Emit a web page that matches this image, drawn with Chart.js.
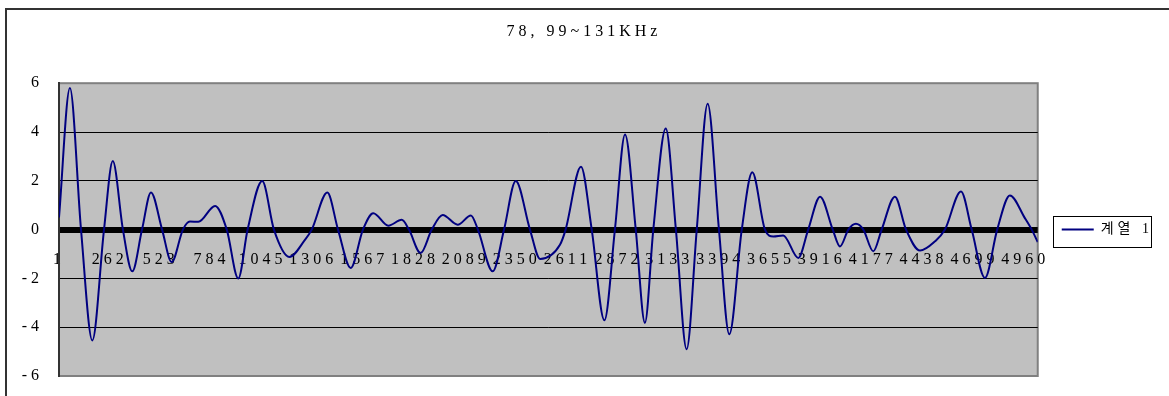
<!DOCTYPE html>
<html>
<head>
<meta charset="utf-8">
<script src="https://cdn.jsdelivr.net/npm/chart.js@4.4.1/dist/chart.umd.min.js"></script>
<style>
  html, body { margin: 0; padding: 0; background: #fff; overflow: hidden; }
  #wrap { position: relative; width: 1169px; height: 396px; }
  #frame {
    position: absolute; left: 5px; top: 8px; width: 1300px; height: 500px;
    border-left: 2px solid #333; border-top: 2px solid #333; pointer-events: none;
  }
  canvas { position: absolute; left: 0; top: 0; }
</style>
</head>
<body>
<div id="wrap">
  <canvas id="chart" width="1169" height="396"></canvas>
  <div id="frame"></div>
</div>
<script>
const TITLE = "78, 99~131KHz";
const SERIES_NAME = "계열 1";

// sample index (x) and value: peaks, troughs, zero crossings
const sampleIdx = [
  1, 57, 114, 172, 232, 277, 329, 377, 427, 473, 530, 579, 637, 673, 716, 802,
  862, 921, 969, 1044, 1104, 1183, 1264, 1298, 1378, 1433, 1498, 1561, 1614,
  1691, 1760, 1797, 1857, 1914, 1970, 2047, 2115, 2151, 2227, 2285, 2345, 2418,
  2470, 2572, 2601, 2680, 2735, 2800, 2854, 2906, 2961, 3008, 3051, 3115, 3167,
  3222, 3274, 3330, 3388, 3441, 3505, 3559, 3624, 3667, 3718, 3795, 3846, 3907,
  3972, 4009, 4052, 4091, 4129, 4180, 4223, 4291, 4348, 4420, 4497, 4548, 4630,
  4685, 4753, 4816, 4881, 4958, 4993, 5024,
];
const signal = [
  0.5, 5.8, 0, -4.54, 0, 2.81, 0, -1.71, 0, 1.52, 0, -1.33, 0, 0.33, 0.32, 0.97,
  0, -2.0, 0, 1.99, 0, -1.12, -0.41, 0, 1.52, 0, -1.57, 0, 0.67,
  0.16, 0.4, 0, -0.96, 0, 0.6, 0.2, 0.58, 0, -1.71, 0, 1.99, 0,
  -1.2, -0.62, 0, 2.58, 0, -3.72, 0, 3.9, 0, -3.82, 0, 4.14, 0,
  -4.9, 0, 5.16, 0, -4.29, 0, 2.35, 0, -0.28, -0.24, -1.16, 0, 1.35,
  0, -0.69, 0, 0.24, 0, -0.89, 0, 1.35, 0, -0.86, -0.48, 0, 1.56,
  0, -1.98, 0, 1.4, 0.47, 0, -0.51,
];

const xLabels = [
  1, 262, 523, 784, 1045, 1306, 1567, 1828, 2089, 2350, 2611, 2872, 3133, 3394,
  3655, 3916, 4177, 4438, 4699, 4960,
];
const X_MIN = 1;
const X_MAX = 5024;
const Y_MIN = -6;
const Y_MAX = 6;
const Y_STEP = 2;

const FONT_FAMILY = "'Liberation Serif', 'Times New Roman', 'Noto Sans CJK KR', serif";
const textFont = { family: FONT_FAMILY, size: 16, weight: "normal" };
const legendFont = { family: FONT_FAMILY, size: 14, weight: "normal" };

const spacingPlugin = {
  id: "spacing",
  beforeUpdate(chart) {
    chart.ctx.letterSpacing = "4px";
  },
  beforeDraw(chart) {
    chart.ctx.letterSpacing = "4px";
  },
};

const plotAreaPlugin = {
  id: "plotArea",
  beforeDraw(chart) {
    const { ctx, chartArea: a } = chart;
    ctx.save();
    ctx.fillStyle = "#c0c0c0";
    ctx.fillRect(a.left, a.top, a.right - a.left, a.bottom - a.top);
    ctx.strokeStyle = "#808080";
    ctx.lineWidth = 2;
    ctx.strokeRect(a.left, a.top, a.right - a.left, a.bottom - a.top);
    ctx.restore();
  },
};

const legendBoxPlugin = {
  id: "legendBox",
  afterDraw(chart) {
    const hb = chart.legend && chart.legend.legendHitBoxes[0];
    if (!hb) return;
    const ctx = chart.ctx;
    const cy = hb.top + hb.height / 2;
    ctx.save();
    ctx.strokeStyle = "#000";
    ctx.lineWidth = 1;
    ctx.strokeRect(
      Math.round(hb.left - 9) + 0.5,
      Math.round(cy - 14) + 0.5,
      Math.round(hb.width + 7),
      31
    );
    ctx.restore();
  },
};

const points = sampleIdx.map((x, i) => ({ x, y: signal[i] }));

const chart = new Chart(document.getElementById("chart"), {
  type: "line",
  data: {
    datasets: [
      {
        label: SERIES_NAME,
        data: points,
        borderColor: "#000080",
        backgroundColor: "#000080",
        borderWidth: 2,
        pointRadius: 0,
        fill: false,
        cubicInterpolationMode: "monotone",
      },
    ],
  },
  options: {
    responsive: false,
    animation: false,
    events: [],
    layout: { padding: { top: 10, left: 5, right: 6, bottom: 20 } },
    plugins: {
      title: {
        display: true,
        text: TITLE,
        color: "#000",
        font: textFont,
        padding: { top: 12, bottom: 42 },
      },
      legend: {
        position: "right",
        fullSize: false,
        labels: {
          color: "#000",
          font: legendFont,
          usePointStyle: true,
          pointStyle: "line",
          pointStyleWidth: 32,
          padding: 24,
        },
      },
      tooltip: { enabled: false },
    },
    scales: {
      x: {
        type: "linear",
        min: X_MIN,
        max: X_MAX,
        position: { y: 0 },
        grid: { display: false, drawTicks: false },
        border: { display: false },
        afterBuildTicks: (scale) => {
          scale.ticks = xLabels.map((v) => ({ value: v }));
        },
        ticks: {
          autoSkip: false,
          maxRotation: 0,
          padding: 21,
          color: "#000",
          font: textFont,
          callback: (v) => String(v),
        },
      },
      y: {
        min: Y_MIN,
        max: Y_MAX,
        afterFit: (scale) => {
          scale.width = 54;
          scale.paddingTop = 10;
          scale.paddingBottom = 10;
        },
        grid: {
          drawTicks: false,
          color: (c) => (Math.abs(c.tick.value) === Y_MAX ? "rgba(0,0,0,0)" : "#000"),
          lineWidth: (c) => (c.tick.value === 0 ? 6 : 1),
        },
        border: { display: true, color: "#333", width: 2 },
        ticks: {
          stepSize: Y_STEP,
          padding: 16,
          color: "#000",
          font: textFont,
          callback: (v) => String(v),
        },
      },
    },
  },
  plugins: [spacingPlugin, plotAreaPlugin, legendBoxPlugin],
});
</script>
</body>
</html>
